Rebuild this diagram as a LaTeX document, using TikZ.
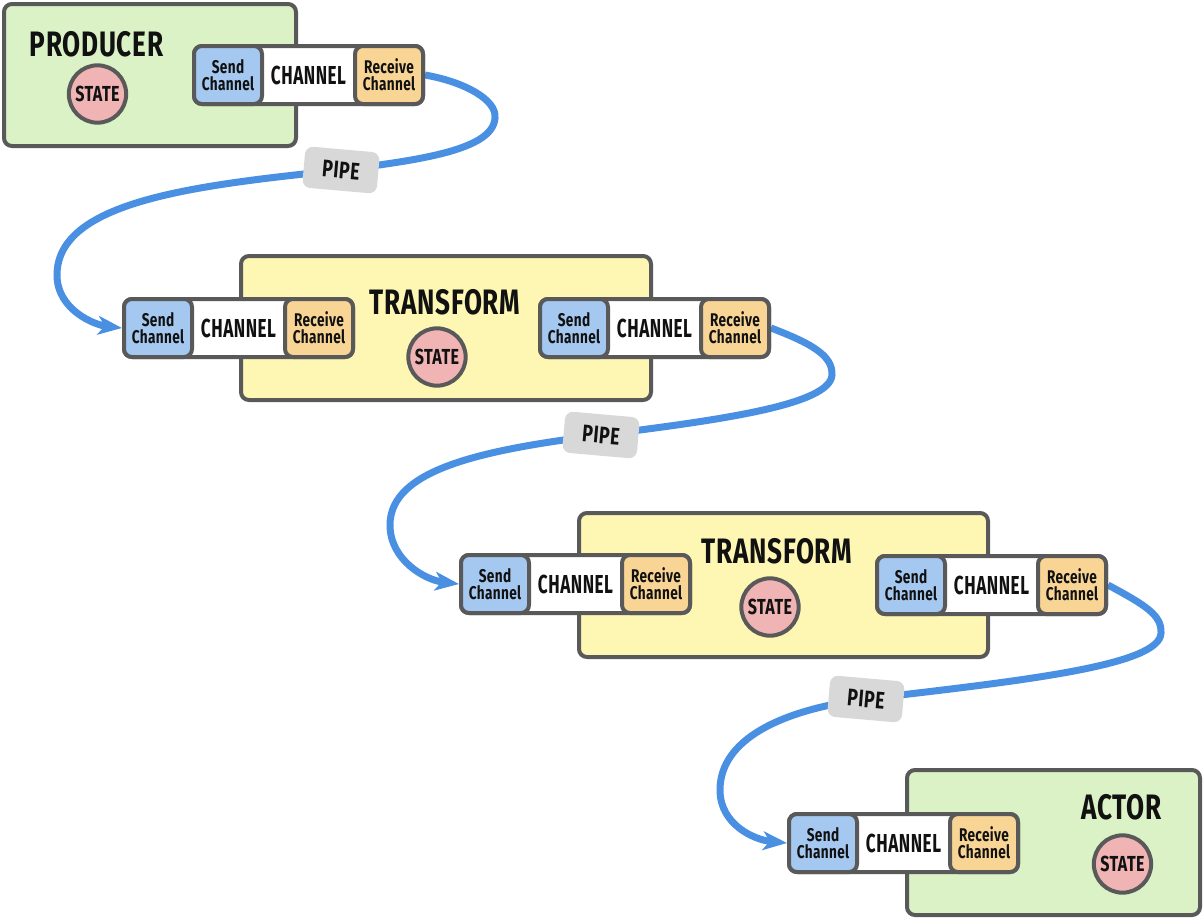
\documentclass[tikz,border=0pt]{standalone}
\usepackage{fontspec}
\setmainfont{Fira Sans}[FakeStretch=0.74, LetterSpace=2]
\newfontfamily\narrowf{Fira Sans}[FakeStretch=0.66, LetterSpace=2]
\usetikzlibrary{arrows.meta}
\definecolor{edgec}{HTML}{595959}
\definecolor{greenc}{HTML}{DBF2C6}
\definecolor{yellowc}{HTML}{FEF7B4}
\definecolor{statec}{HTML}{F0B4B4}
\definecolor{sendc}{HTML}{A4C8F0}
\definecolor{recvc}{HTML}{F9D595}
\definecolor{pipegray}{HTML}{D8D8D8}
\definecolor{pipec}{HTML}{4A90E2}
\definecolor{textc}{HTML}{111111}
\pgfdeclarelayer{bg}
\pgfsetlayers{bg,main}
\newcommand\chgroup[2]{%
  \node[grp] (#1) at (#2) {CHANNEL};
  \node[sendbox, anchor=west] (#1s) at (#1.west) {Send\\Channel};
  \node[recvbox, anchor=east] (#1r) at (#1.east) {Receive\\Channel};}
\begin{document}
\begin{tikzpicture}[x=0.75pt,y=-0.75pt,
  every node/.style={text=textc},
  bigbox/.style={draw=edgec, line width=3pt, rounded corners=6pt, inner sep=0pt},
  titletext/.style={font=\fontsize{26.5}{28}\selectfont\bfseries, inner sep=0pt},
  state/.style={circle, draw=edgec, line width=3pt, fill=statec, minimum size=43pt, inner sep=0pt, font=\fontsize{16.3}{18}\selectfont\bfseries},
  grp/.style={draw=edgec, fill=white, line width=3pt, rounded corners=6pt, minimum width=171.75pt, minimum height=43.5pt, inner sep=0pt, font=\narrowf\fontsize{19.5}{22}\selectfont\bfseries},
  chbox/.style={draw=edgec, line width=3pt, rounded corners=6pt, minimum width=51pt, minimum height=43.5pt, inner sep=0pt, align=center, font=\fontsize{13.8}{12.75}\selectfont\bfseries},
  sendbox/.style={chbox, fill=sendc},
  recvbox/.style={chbox, fill=recvc},
  pipelabel/.style={fill=pipegray, rounded corners=6pt, minimum width=56pt, minimum height=31pt, inner sep=0pt, rotate=-5, font=\fontsize{18}{20}\selectfont\bfseries},
  pipe/.style={draw=pipec, line width=5.25pt, -{Stealth[length=18pt,width=14pt,inset=5pt]}}
]
\useasboundingbox (0,0) rectangle (1204,918);

% big boxes
\node[bigbox, fill=greenc, minimum width=219pt, minimum height=106.5pt] (prod) at (150,75) {};
\node[bigbox, fill=yellowc, minimum width=307.5pt, minimum height=108pt] (tr1) at (446,328) {};
\node[bigbox, fill=yellowc, minimum width=306.75pt, minimum height=108pt] (tr2) at (783.5,585) {};
\node[bigbox, fill=greenc, minimum width=219.75pt, minimum height=108.75pt] (act) at (1053.5,842.5) {};

% titles and states
\node[titletext] (prodt) at (96.5,44) {PRODUCER};
\node[state] (prods) at (97.5,94) {STATE};
\node[titletext] (tr1t) at (445,302.5) {TRANSFORM};
\node[state] (tr1s) at (437,357) {STATE};
\node[titletext] (tr2t) at (777,551) {TRANSFORM};
\node[state] (tr2s) at (770,607) {STATE};
\node[titletext] (actt) at (1121.5,807.5) {ACTOR};
\node[state] (acts) at (1122.5,864) {STATE};

% channel groups
\chgroup{ga}{308.5,75}
\chgroup{gb}{238.5,328}
\chgroup{gc}{654.5,328}
\chgroup{gd}{575.5,584}
\chgroup{ge}{991.5,585}
\chgroup{gf}{903.5,843}

% pipe labels
\node[pipelabel] (p1) at (341,170) {PIPE};
\node[pipelabel] (p2) at (601,435) {PIPE};
\node[pipelabel] (p3) at (866,699) {PIPE};

\begin{pgfonlayer}{bg}
\draw[pipe] (gar.east) .. controls (465,82) and (497,100) .. (495,118)
  .. controls (493,150) and (420,160) .. (p1.center)
  .. controls (200,185) and (57,200) .. (57,275)
  .. controls (57,310) and (95,325) .. (gbs.west);
\draw[pipe] (gcr.east) .. controls (810,343) and (833,355) .. (832,375)
  .. controls (830,405) and (720,420) .. (p2.center)
  .. controls (480,450) and (390,470) .. (390,525)
  .. controls (390,560) and (425,580) .. (gds.west);
\draw[pipe] (ger.east) .. controls (1145,605) and (1162,615) .. (1161,633)
  .. controls (1160,665) and (1030,680) .. (p3.center)
  .. controls (780,710) and (720,740) .. (720,790)
  .. controls (720,825) and (755,840) .. (gfs.west);
\end{pgfonlayer}
\end{tikzpicture}
\end{document}
